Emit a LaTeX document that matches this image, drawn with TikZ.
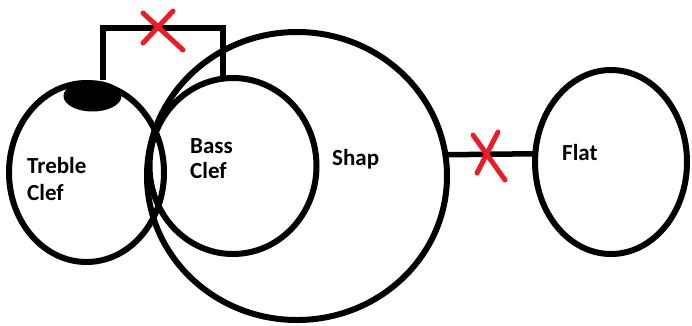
\documentclass[tikz,border=0pt]{standalone}
\usepackage{fontspec}
\setmainfont{Carlito}
\usetikzlibrary{shapes.geometric}
\definecolor{xred}{RGB}{237,28,36}
\tikzset{
  ring/.style={shape=ellipse, draw=black, line width=6pt, inner sep=0pt},
  lbl/.style={anchor=base west, inner sep=0pt, font=\fontsize{23}{27}\selectfont\bfseries},
  wire/.style={draw=black, line width=5.5pt},
  cross/.style={draw=xred, line width=5pt, line cap=round}
}
\begin{document}
\begin{tikzpicture}[x=1pt,y=-1pt]
\useasboundingbox (0,0) rectangle (692,325);
% big circle
\node[ring, minimum width=300pt, minimum height=288pt] (shap) at (297,176) {};
% treble
\node[ring, minimum width=155pt, minimum height=179pt] (treble) at (86.5,172.5) {};
% bass
\node[ring, minimum width=167pt, minimum height=176pt] (bass) at (233,166) {};
% flat
\node[ring, minimum width=152pt, minimum height=184pt] (flat) at (611,162) {};
% filled blob
\node[shape=ellipse, fill=black, inner sep=0pt, minimum width=58pt, minimum height=31pt] (blob) at (92.5,96) {};
% labels
\node[lbl] (t1) at (27,173) {Treble};
\node[lbl] (t2) at (27,200) {Clef};
\node[lbl] (b1) at (190,153) {Bass};
\node[lbl] (b2) at (190,178) {Clef};
\node[lbl] (s1) at (332,165) {Shap};
\node[lbl] (f1) at (562,160) {Flat};
% bracket
\coordinate (topy) at (0,28);
\draw[wire, line cap=square] ([xshift=10.5pt]blob.north) |- (topy -| 223,0) -- ([xshift=-10pt,yshift=-3pt]bass.north);
% link shap-flat
\draw[wire, line cap=round] (shap.8.5) -- ([xshift=3pt]flat.174);
% red crosses
\draw[cross] (143,13) -- (183,50);
\draw[cross] (173,11) -- (143,43);
\draw[cross] (473,135) -- (505,180);
\draw[cross] (498,132) -- (477,173);
\end{tikzpicture}
\end{document}
